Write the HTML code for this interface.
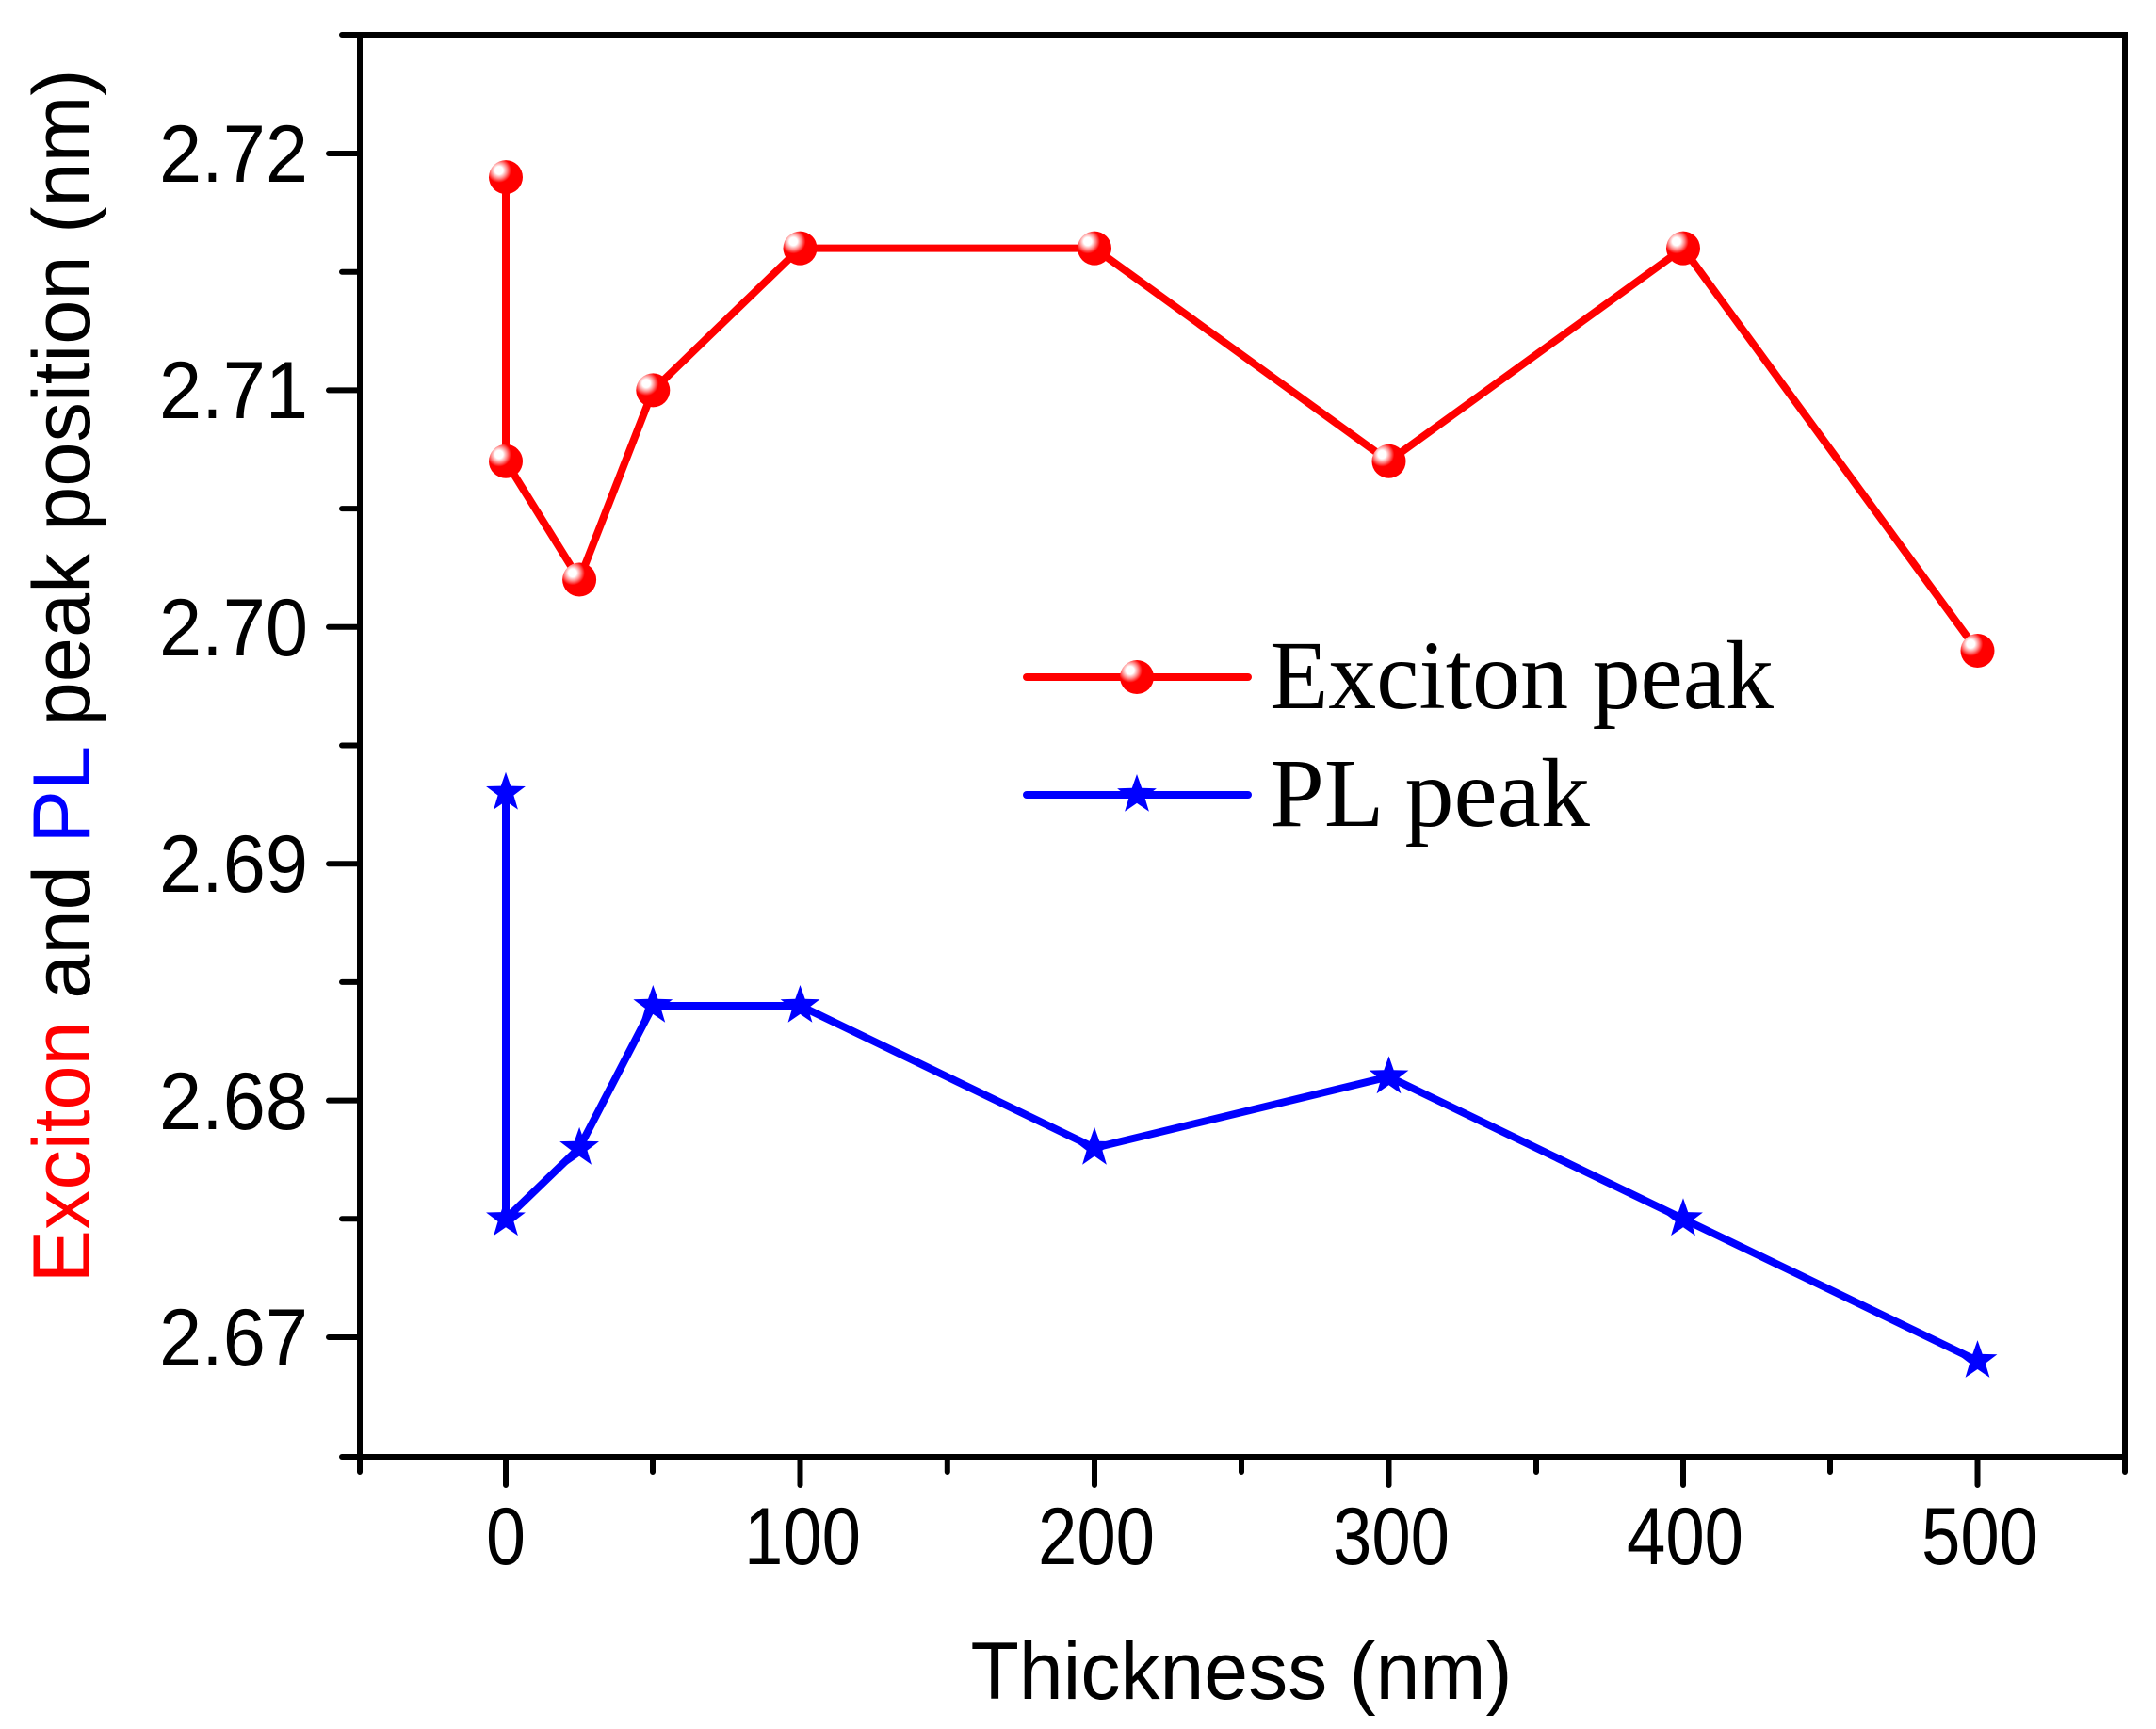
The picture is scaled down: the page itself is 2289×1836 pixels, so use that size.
<!DOCTYPE html>
<html><head><meta charset="utf-8"><style>html,body{margin:0;padding:0;background:#fff}svg{display:block}</style></head><body>
<svg width="2289" height="1836" viewBox="0 0 2289 1836" xmlns="http://www.w3.org/2000/svg" font-family="Liberation Sans, Arial, sans-serif">
<defs>
<radialGradient id="rg" cx="0.3" cy="0.3" r="0.8">
<stop offset="0" stop-color="#fff"/><stop offset="0.15" stop-color="#fff"/><stop offset="0.3" stop-color="#f88"/><stop offset="0.45" stop-color="#f00"/><stop offset="1" stop-color="#f00"/>
</radialGradient>
<g id="c"><circle r="18" fill="url(#rg)"/></g>
<polygon id="s" fill="#00f" points="0,-22 5.2,-7.2 20.9,-6.8 8.4,2.7 12.9,17.8 0,8.9 -12.9,17.8 -8.4,2.7 -20.9,-6.8 -5.2,-7.2"/>
</defs>
<g stroke="#000" stroke-width="6" stroke-linecap="round" fill="none">
<rect x="382" y="37" width="1874" height="1510"/>
<path d="M382 163h-33M382 414.4h-33M382 665.8h-33M382 917.2h-33M382 1168.6h-33M382 1420h-33"/>
<path d="M382 37h-19M382 288.7h-19M382 540.1h-19M382 791.5h-19M382 1042.9h-19M382 1294.3h-19M382 1547h-19"/>
<path d="M537 1547v30M849.5 1547v30M1162 1547v30M1474.5 1547v30M1787 1547v30M2099.5 1547v30"/>
<path d="M382 1547v16M693 1547v16M1005.8 1547v16M1318 1547v16M1631 1547v16M1943 1547v16M2256 1547v16"/>
</g>
<g font-size="86" text-anchor="end">
<text x="327" y="193" textLength="158" lengthAdjust="spacingAndGlyphs">2.72</text>
<text x="327" y="444" textLength="158" lengthAdjust="spacingAndGlyphs">2.71</text>
<text x="327" y="696" textLength="158" lengthAdjust="spacingAndGlyphs">2.70</text>
<text x="327" y="947" textLength="158" lengthAdjust="spacingAndGlyphs">2.69</text>
<text x="327" y="1199" textLength="158" lengthAdjust="spacingAndGlyphs">2.68</text>
<text x="327" y="1450" textLength="158" lengthAdjust="spacingAndGlyphs">2.67</text>
</g>
<g font-size="86" text-anchor="middle">
<text x="537" y="1661" textLength="42" lengthAdjust="spacingAndGlyphs">0</text>
<text x="852" y="1661" textLength="124" lengthAdjust="spacingAndGlyphs">100</text>
<text x="1164" y="1661" textLength="124" lengthAdjust="spacingAndGlyphs">200</text>
<text x="1477" y="1661" textLength="124" lengthAdjust="spacingAndGlyphs">300</text>
<text x="1789" y="1661" textLength="124" lengthAdjust="spacingAndGlyphs">400</text>
<text x="2102" y="1661" textLength="124" lengthAdjust="spacingAndGlyphs">500</text>
<text x="1318" y="1804" textLength="575" lengthAdjust="spacingAndGlyphs">Thickness (nm)</text>
</g>
<text transform="translate(95,718) rotate(-90)" font-size="86" text-anchor="middle" textLength="1289" lengthAdjust="spacingAndGlyphs"><tspan fill="#f00">Exciton</tspan> and <tspan fill="#00f">PL</tspan> peak position (nm)</text>
<polyline fill="none" stroke="#f00" stroke-width="8" stroke-linejoin="round" points="537,188.1 537,489.8 615.1,615.5 693.3,414.4 849.5,263.6 1162,263.6 1474.5,489.8 1787,263.6 2099.5,691"/>
<polyline fill="none" stroke="#00f" stroke-width="8" stroke-linejoin="round" points="537,841.8 537,1294.3 615.1,1218.9 693.3,1068 849.5,1068 1162,1218.9 1474.5,1143.4 1787,1294.3 2099.5,1445.1"/>
<use href="#c" x="537" y="188.1"/><use href="#c" x="537" y="489.8"/><use href="#c" x="615.1" y="615.5"/><use href="#c" x="693.3" y="414.4"/><use href="#c" x="849.5" y="263.6"/><use href="#c" x="1162" y="263.6"/><use href="#c" x="1474.5" y="489.8"/><use href="#c" x="1787" y="263.6"/><use href="#c" x="2099.5" y="691"/>
<use href="#s" x="537" y="841.8"/><use href="#s" x="537" y="1294.3"/><use href="#s" x="615.1" y="1218.9"/><use href="#s" x="693.3" y="1068"/><use href="#s" x="849.5" y="1068"/><use href="#s" x="1162" y="1218.9"/><use href="#s" x="1474.5" y="1143.4"/><use href="#s" x="1787" y="1294.3"/><use href="#s" x="2099.5" y="1445.1"/>
<line x1="1090" y1="719" x2="1325" y2="719" stroke="#f00" stroke-width="8" stroke-linecap="round"/>
<use href="#c" x="1207" y="719"/>
<line x1="1090" y1="844" x2="1325" y2="844" stroke="#00f" stroke-width="8" stroke-linecap="round"/>
<use href="#s" x="1207" y="844"/>
<g font-family="Liberation Serif, Times New Roman, serif" font-size="104">
<text x="1348" y="752" textLength="535" lengthAdjust="spacingAndGlyphs">Exciton peak</text>
<text x="1348" y="877">PL peak</text>
</g>
</svg>
</body></html>
